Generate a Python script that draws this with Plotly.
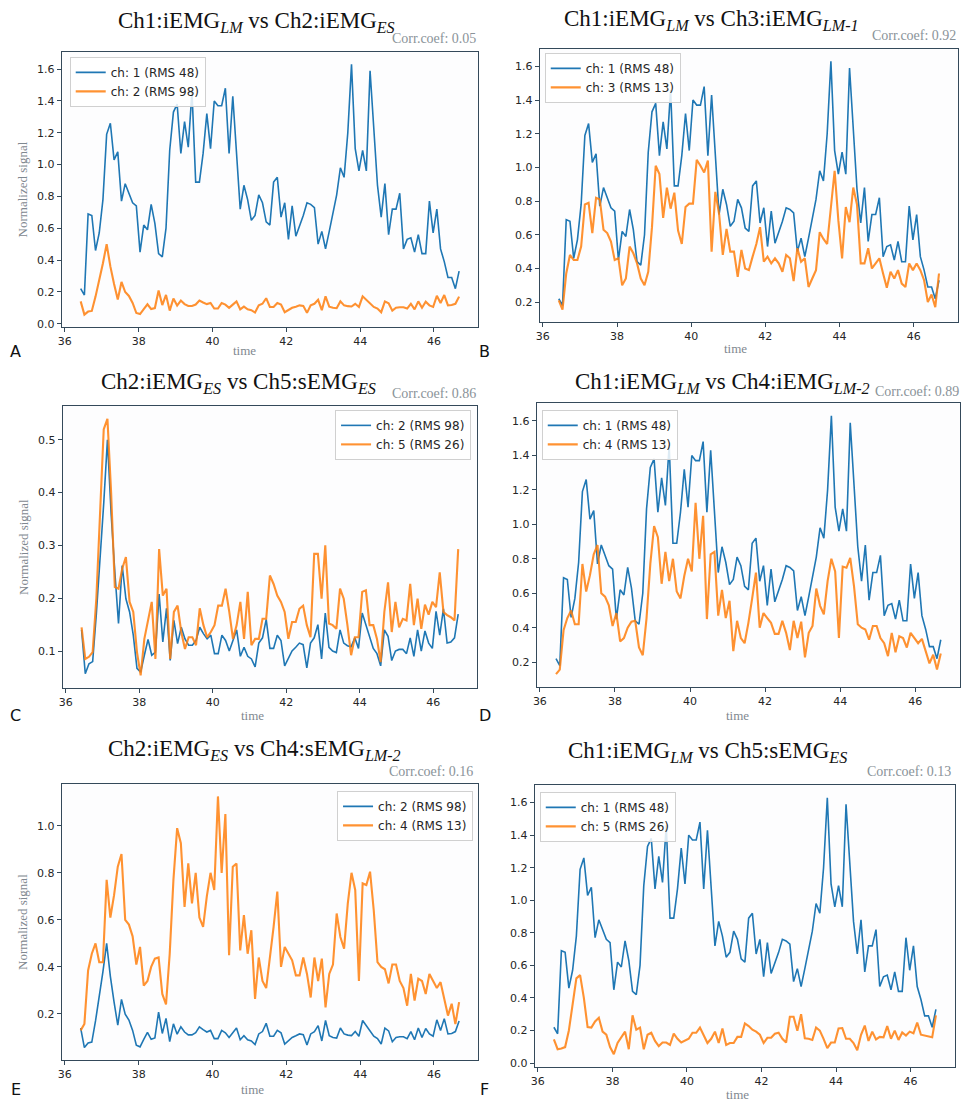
import numpy as np
import plotly.graph_objects as go

W, H = 962, 1104

# ---------------- data ----------------
n_pts = 103
time = np.round(36.43 + np.arange(n_pts) * 0.1005, 4)

ch1 = [0.22, 0.18, 0.69, 0.68, 0.46, 0.57, 0.78, 1.19, 1.26, 1.03,
       1.08, 0.77, 0.88, 0.82, 0.76, 0.74, 0.45, 0.62, 0.59, 0.75,
       0.63, 0.44, 0.42, 0.60, 1.09, 1.33, 1.38, 1.07, 1.27, 1.11,
       1.46, 0.89, 0.89, 1.07, 1.32, 1.10, 1.40, 1.37, 1.37, 1.48,
       1.07, 1.43, 1.09, 0.72, 0.87, 0.78, 0.65, 0.68, 0.81, 0.76,
       0.64, 0.62, 0.89, 0.92, 0.67, 0.76, 0.53, 0.74, 0.55, 0.61,
       0.68, 0.76, 0.75, 0.73, 0.50, 0.58, 0.47, 0.58, 0.69, 0.81,
       0.98, 0.92, 1.20, 1.63, 1.10, 0.96, 1.09, 0.96, 1.59, 1.20,
       0.87, 0.67, 0.88, 0.56, 0.72, 0.72, 0.82, 0.47, 0.53, 0.54,
       0.45, 0.56, 0.44, 0.44, 0.77, 0.57, 0.72, 0.47, 0.39, 0.29,
       0.29, 0.22, 0.33]

ch2 = [0.14, 0.057, 0.076, 0.08, 0.17, 0.27, 0.38, 0.50, 0.36, 0.25,
       0.152, 0.262, 0.199, 0.174, 0.13, 0.067, 0.06, 0.092, 0.122, 0.092,
       0.098, 0.208, 0.117, 0.181, 0.082, 0.158, 0.114, 0.145, 0.123, 0.111,
       0.111, 0.12, 0.145, 0.133, 0.123,
       0.13, 0.095, 0.095, 0.13, 0.12, 0.10, 0.12, 0.14, 0.09, 0.107,
       0.09, 0.085, 0.07, 0.115, 0.125, 0.16, 0.105, 0.105, 0.13, 0.12,
       0.072, 0.085, 0.10, 0.107, 0.115, 0.112, 0.068, 0.115, 0.125, 0.15,
       0.085, 0.172, 0.107, 0.10, 0.097, 0.14, 0.115, 0.11, 0.108, 0.125,
       0.105, 0.172, 0.15, 0.125, 0.105, 0.095, 0.072, 0.14, 0.128, 0.082,
       0.10, 0.103, 0.103, 0.095, 0.125, 0.09, 0.14, 0.10, 0.138, 0.115,
       0.105, 0.175, 0.13, 0.18, 0.115, 0.117, 0.125, 0.17]

ch3 = [0.21, 0.155, 0.37, 0.48, 0.45, 0.45, 0.53, 0.78, 0.79, 0.61,
       0.82, 0.81, 0.63, 0.61, 0.56, 0.45, 0.46, 0.30, 0.34, 0.53,
       0.49, 0.43, 0.34, 0.30, 0.38, 0.645, 1.01, 0.96, 0.70, 0.88,
       0.755, 0.85, 0.625, 0.545, 0.765, 0.785, 0.785, 1.045, 1.01, 0.97,
       1.04, 0.50, 0.855, 0.725, 0.48, 0.635, 0.50, 0.50, 0.35, 0.51,
       0.40, 0.39, 0.47, 0.545, 0.645, 0.44, 0.47, 0.43, 0.46, 0.43,
       0.38, 0.48, 0.46, 0.325, 0.52, 0.44, 0.46, 0.29, 0.34, 0.39,
       0.615, 0.575, 0.545, 0.78, 0.98, 0.685, 0.46, 0.765, 0.675, 0.88,
       0.78, 0.43, 0.43, 0.52, 0.40, 0.43, 0.46, 0.37, 0.285, 0.38,
       0.34, 0.39, 0.31, 0.29, 0.43, 0.39, 0.43, 0.39, 0.33, 0.20,
       0.245, 0.17, 0.37]

ch4 = [0.13, 0.157, 0.385, 0.456, 0.50, 0.42, 0.42, 0.77, 0.61, 0.705,
       0.826, 0.88, 0.60, 0.58, 0.53, 0.41, 0.485, 0.32, 0.34, 0.40,
       0.435, 0.44, 0.285, 0.24, 0.456, 0.77, 0.99, 0.926, 0.655, 0.84,
       0.67, 0.80, 0.61, 0.57, 0.70, 0.80, 0.727, 1.125, 0.80, 1.05,
       0.45, 0.826, 0.84, 0.47, 0.62, 0.456, 0.556, 0.264, 0.44, 0.34,
       0.31, 0.428, 0.57, 0.72, 0.40, 0.485, 0.456, 0.428, 0.364, 0.364,
       0.44, 0.37, 0.27, 0.44, 0.34, 0.435, 0.228, 0.37, 0.41, 0.627,
       0.527, 0.478, 0.67, 0.80, 0.727, 0.34, 0.755, 0.748, 0.805, 0.64,
       0.42, 0.40, 0.39, 0.33, 0.41, 0.41, 0.34, 0.31, 0.235, 0.37,
       0.257, 0.35, 0.34, 0.285, 0.37, 0.34, 0.31, 0.335, 0.27, 0.193,
       0.243, 0.157, 0.25]

ch5 = [0.145, 0.085, 0.089, 0.098, 0.20, 0.36, 0.52, 0.54, 0.40, 0.221,
       0.218, 0.256, 0.278, 0.193, 0.174, 0.098, 0.054, 0.123, 0.161, 0.193,
       0.085, 0.293, 0.205, 0.218, 0.085, 0.174, 0.186, 0.136, 0.104, 0.126,
       0.126, 0.111, 0.181, 0.149, 0.126, 0.136, 0.149, 0.186, 0.186, 0.218,
       0.174, 0.123, 0.149, 0.193, 0.123, 0.212, 0.111, 0.123, 0.123, 0.161,
       0.161, 0.243, 0.227, 0.205, 0.193, 0.174, 0.123, 0.155, 0.155, 0.18,
       0.186, 0.149, 0.126, 0.284, 0.284, 0.199, 0.30, 0.152, 0.149, 0.142,
       0.218, 0.199, 0.149, 0.092, 0.126, 0.126, 0.212, 0.215, 0.149, 0.149,
       0.123, 0.079, 0.174, 0.23, 0.136, 0.193, 0.145, 0.161, 0.158, 0.227,
       0.149, 0.199, 0.142, 0.188, 0.169, 0.193, 0.183, 0.249, 0.174, 0.168,
       0.164, 0.158, 0.293]

channels = {1: ch1, 2: ch2, 3: ch3, 4: ch4, 5: ch5}
rms = {1: 48, 2: 98, 3: 13, 4: 13, 5: 26}

panel_letters = ["A", "B", "C", "D", "E", "F"]
panel_pairs = [(1, 2), (1, 3), (2, 5), (1, 4), (2, 4), (1, 5)]
panel_titles = [
    "Ch1:iEMG<sub><i>LM</i></sub> vs Ch2:iEMG<sub><i>ES</i></sub>",
    "Ch1:iEMG<sub><i>LM</i></sub> vs Ch3:iEMG<sub><i>LM-1</i></sub>",
    "Ch2:iEMG<sub><i>ES</i></sub> vs Ch5:sEMG<sub><i>ES</i></sub>",
    "Ch1:iEMG<sub><i>LM</i></sub> vs Ch4:iEMG<sub><i>LM-2</i></sub>",
    "Ch2:iEMG<sub><i>ES</i></sub> vs Ch4:sEMG<sub><i>LM-2</i></sub>",
    "Ch1:iEMG<sub><i>LM</i></sub> vs Ch5:sEMG<sub><i>ES</i></sub>",
]
corr_values = ["0.05", "0.92", "0.86", "0.89", "0.16", "0.13"]
x_ticks = [36, 38, 40, 42, 44, 46]
y_ticks = [
    [0.0, 0.2, 0.4, 0.6, 0.8, 1.0, 1.2, 1.4, 1.6],
    [0.2, 0.4, 0.6, 0.8, 1.0, 1.2, 1.4, 1.6],
    [0.1, 0.2, 0.3, 0.4, 0.5],
    [0.2, 0.4, 0.6, 0.8, 1.0, 1.2, 1.4, 1.6],
    [0.2, 0.4, 0.6, 0.8, 1.0],
    [0.0, 0.2, 0.4, 0.6, 0.8, 1.0, 1.2, 1.4, 1.6],
]

# ---------------- layout geometry (pixels) ----------------
boxes = [  # x0, x1, y0(top), y1(bottom)
    (58, 476, 52, 328),
    (538, 958, 49, 323),
    (59, 475, 407, 690),
    (535, 960, 404, 689),
    (58, 476, 786, 1063),
    (533, 955, 787, 1070),
]
legend_pos = [  # x, y, anchor
    (66, 57, "left"), (543, 53, "left"), (469, 411, "right"),
    (540, 411, "left"), (471, 793, "right"), (538, 794, "left"),
]
title_pos = [(254, 22), (710, 20), (235, 384), (722, 384), (252, 752), (706, 754)]
corr_pos = [(476, 39), (958, 36), (476, 395), (961, 393), (473, 774), (953, 774)]
time_pos = [(242, 351), (735, 349), (250, 717), (737, 717), (250, 1092), (737, 1097)]
letter_pos = [(12, 352), (483, 352), (12, 717), (483, 717), (12, 1092), (483, 1092)]

BLUE = "#1f77b4"
ORANGE = "#ff7f0e"

def px_x(x):
    return x / W

def px_y(y):
    return 1 - y / H

fig = go.Figure()
annotations = []

for k in range(6):
    a, b = panel_pairs[k]
    ax = "" if k == 0 else str(k + 1)
    lg = "legend" if k == 0 else f"legend{k + 1}"
    fig.add_trace(go.Scatter(
        x=time, y=channels[a], mode="lines", name=f"ch: {a} (RMS {rms[a]})",
        line=dict(color=BLUE, width=1.6), xaxis="x" + ax, yaxis="y" + ax,
        legend=lg))
    fig.add_trace(go.Scatter(
        x=time, y=channels[b], mode="lines", name=f"ch: {b} (RMS {rms[b]})",
        line=dict(color=ORANGE, width=2.1), opacity=0.85,
        xaxis="x" + ax, yaxis="y" + ax, legend=lg))

    vals = list(channels[a]) + list(channels[b])
    lo, hi = min(vals), max(vals)
    pad = 0.05 * (hi - lo)
    tlo, thi = float(time[0]), float(time[-1])
    tpad = 0.05 * (thi - tlo)

    x0, x1, y0, y1 = boxes[k]
    axis_common = dict(
        showline=True, mirror=True, linecolor="#34495a", linewidth=1.3,
        ticks="outside", ticklen=4, tickwidth=1, tickcolor="#34495a",
        showgrid=False, zeroline=False,
        tickfont=dict(family="DejaVu Sans", size=11, color="#262626"),
    )
    fig.update_layout(**{
        "xaxis" + ax: dict(domain=[px_x(x0), px_x(x1)],
                           range=[tlo - tpad, thi + tpad],
                           tickvals=x_ticks, anchor="y" + ax, **axis_common),
        "yaxis" + ax: dict(domain=[px_y(y1), px_y(y0)],
                           range=[lo - pad, hi + pad],
                           tickvals=y_ticks[k],
                           ticktext=[f"{v:.1f}" for v in y_ticks[k]],
                           anchor="x" + ax, **axis_common),
    })

    lx, ly, anc = legend_pos[k]
    fig.update_layout(**{lg: dict(
        x=px_x(lx), y=px_y(ly), xanchor=anc, yanchor="top",
        xref="paper", yref="paper",
        bgcolor="rgba(255,255,255,0.85)", bordercolor="#d0d0d0", borderwidth=1,
        font=dict(family="DejaVu Sans", size=12, color="#262626"),
        tracegroupgap=0, itemwidth=30,
    )})

    tx, ty = title_pos[k]
    annotations.append(dict(
        x=px_x(tx), y=px_y(ty), xref="paper", yref="paper",
        text=panel_titles[k], showarrow=False, xanchor="center", yanchor="middle",
        font=dict(family="Liberation Serif", size=23, color="#111111")))
    cx, cy = corr_pos[k]
    annotations.append(dict(
        x=px_x(cx), y=px_y(cy), xref="paper", yref="paper",
        text=f"Corr.coef: {corr_values[k]}", showarrow=False,
        xanchor="right", yanchor="middle",
        font=dict(family="Liberation Serif", size=14, color="#8a9399")))
    mx, my = time_pos[k]
    annotations.append(dict(
        x=px_x(mx), y=px_y(my), xref="paper", yref="paper",
        text="time", showarrow=False, xanchor="center", yanchor="middle",
        font=dict(family="Liberation Serif", size=13, color="#7f8890")))
    pxl, pyl = letter_pos[k]
    annotations.append(dict(
        x=px_x(pxl), y=px_y(pyl), xref="paper", yref="paper",
        text=panel_letters[k], showarrow=False, xanchor="center", yanchor="middle",
        font=dict(family="DejaVu Sans", size=16, color="#111111")))
    if k % 2 == 0:
        annotations.append(dict(
            x=px_x(19), y=px_y((y0 + y1) / 2), xref="paper", yref="paper",
            text="Normalized signal", showarrow=False, textangle=-90,
            xanchor="center", yanchor="middle",
            font=dict(family="Liberation Serif", size=13, color="#7f8890")))

fig.update_layout(
    width=W, height=H,
    margin=dict(l=0, r=0, t=0, b=0),
    paper_bgcolor="white", plot_bgcolor="#fdfdfe",
    annotations=annotations,
    showlegend=True,
)

fig.write_html(
    "out.html",
    config={"displayModeBar": False},
    post_script="document.body.style.margin='0';document.body.style.overflow='hidden';",
)
